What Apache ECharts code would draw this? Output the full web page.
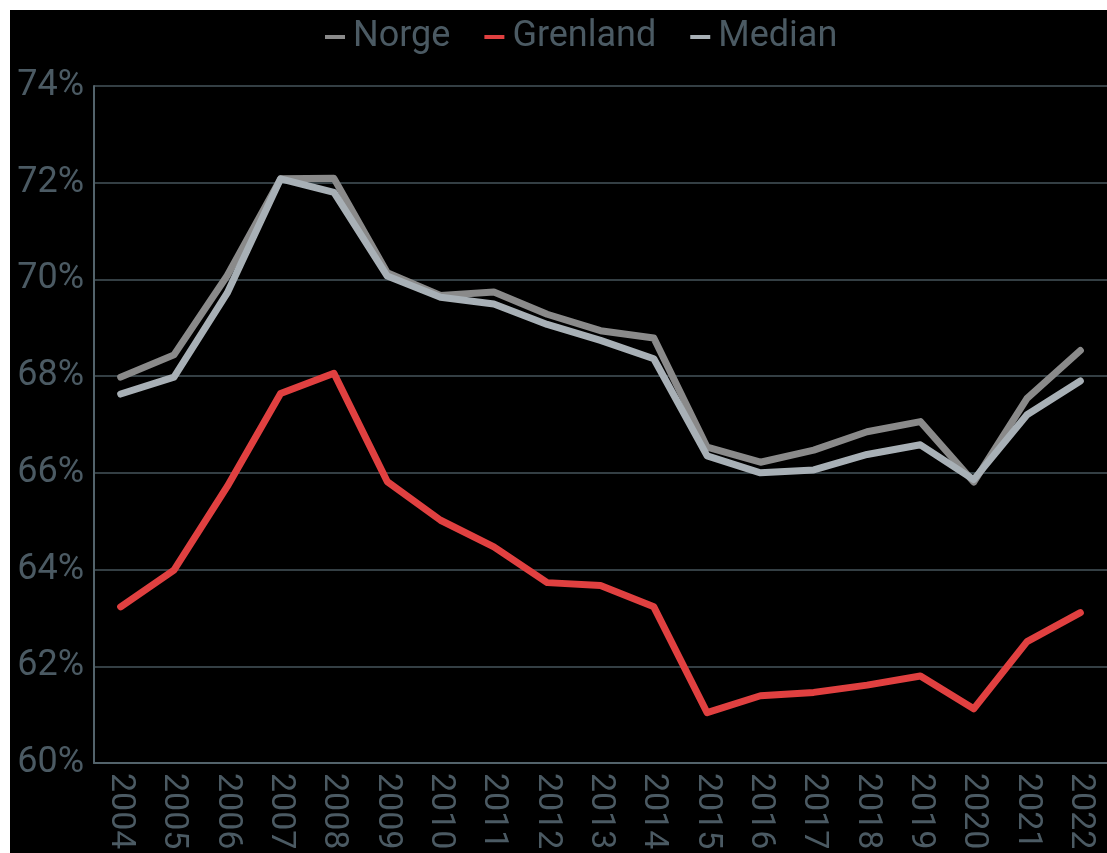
<!DOCTYPE html>
<html>
<head>
<meta charset="utf-8">
<script src="https://cdn.jsdelivr.net/npm/echarts@6/dist/echarts.min.js"></script>
<style>
  html, body { margin: 0; padding: 0; background: #ffffff; }
  #chart { position: absolute; left: 10px; top: 10px; width: 1097px; height: 843px; background: #000000; }
</style>
</head>
<body>
<div id="chart"></div>
<script>
// Sysselsettingsandel, 2004–2022
const years = ['2004','2005','2006','2007','2008','2009','2010','2011','2012','2013',
               '2014','2015','2016','2017','2018','2019','2020','2021','2022'];
const norge    = [67.98, 68.44, 70.08, 72.08, 72.09, 70.14, 69.67, 69.74, 69.28, 68.94,
                  68.79, 66.53, 66.22, 66.47, 66.85, 67.06, 65.81, 67.54, 68.53];
const grenland = [63.23, 63.99, 65.72, 67.64, 68.06, 65.82, 65.02, 64.47, 63.73, 63.67,
                  63.23, 61.04, 61.39, 61.46, 61.61, 61.80, 61.12, 62.51, 63.11];
const median   = [67.63, 67.98, 69.72, 72.08, 71.80, 70.07, 69.63, 69.49, 69.07, 68.74,
                  68.36, 66.35, 66.00, 66.06, 66.38, 66.58, 65.86, 67.20, 67.90];
const yTicks = { min: 60, max: 74, step: 2 };

const textColor = '#4b5a63';
const lineColor = '#53636b';
const fontFamily = 'Roboto';

const chart = echarts.init(document.getElementById('chart'), null, { renderer: 'canvas' });

const mkSeries = (name, data, color) => ({
  name, type: 'line', data,
  showSymbol: false, symbol: 'none',
  lineStyle: { color, width: 7, cap: 'round', join: 'round' },
  itemStyle: { color },
  emphasis: { disabled: true },
  animation: false
});

chart.setOption({
  backgroundColor: '#000000',
  animation: false,
  legend: {
    top: 4, left: 310,
    itemWidth: 20, itemHeight: 4, itemGap: 34,
    icon: 'rect',
    textStyle: { color: textColor, fontSize: 36, fontFamily, padding: [0, 0, 0, 3] },
    data: ['Norge', 'Grenland', 'Median']
  },
  grid: { left: 84, top: 76, right: 0, bottom: 90, containLabel: false },
  xAxis: {
    type: 'category',
    data: years,
    boundaryGap: true,
    axisLine: { show: true, lineStyle: { color: lineColor, width: 2 } },
    axisTick: { show: false },
    axisLabel: { color: textColor, fontSize: 34, fontFamily, rotate: -90, margin: 10, interval: 0 },
    splitLine: { show: false }
  },
  yAxis: {
    type: 'value',
    min: yTicks.min, max: yTicks.max, interval: yTicks.step,
    axisLine: { show: true, lineStyle: { color: lineColor, width: 2 } },
    axisTick: { show: false },
    axisLabel: { color: textColor, fontSize: 36, fontFamily, margin: 10, formatter: v => v + '%' },
    splitLine: { show: true, lineStyle: { color: '#46545b', width: 1.5 } }
  },
  series: [
    mkSeries('Norge', norge, '#8a8a8a'),
    mkSeries('Median', median, '#a8b0b6'),
    mkSeries('Grenland', grenland, '#e04040')
  ]
});
</script>
</body>
</html>
